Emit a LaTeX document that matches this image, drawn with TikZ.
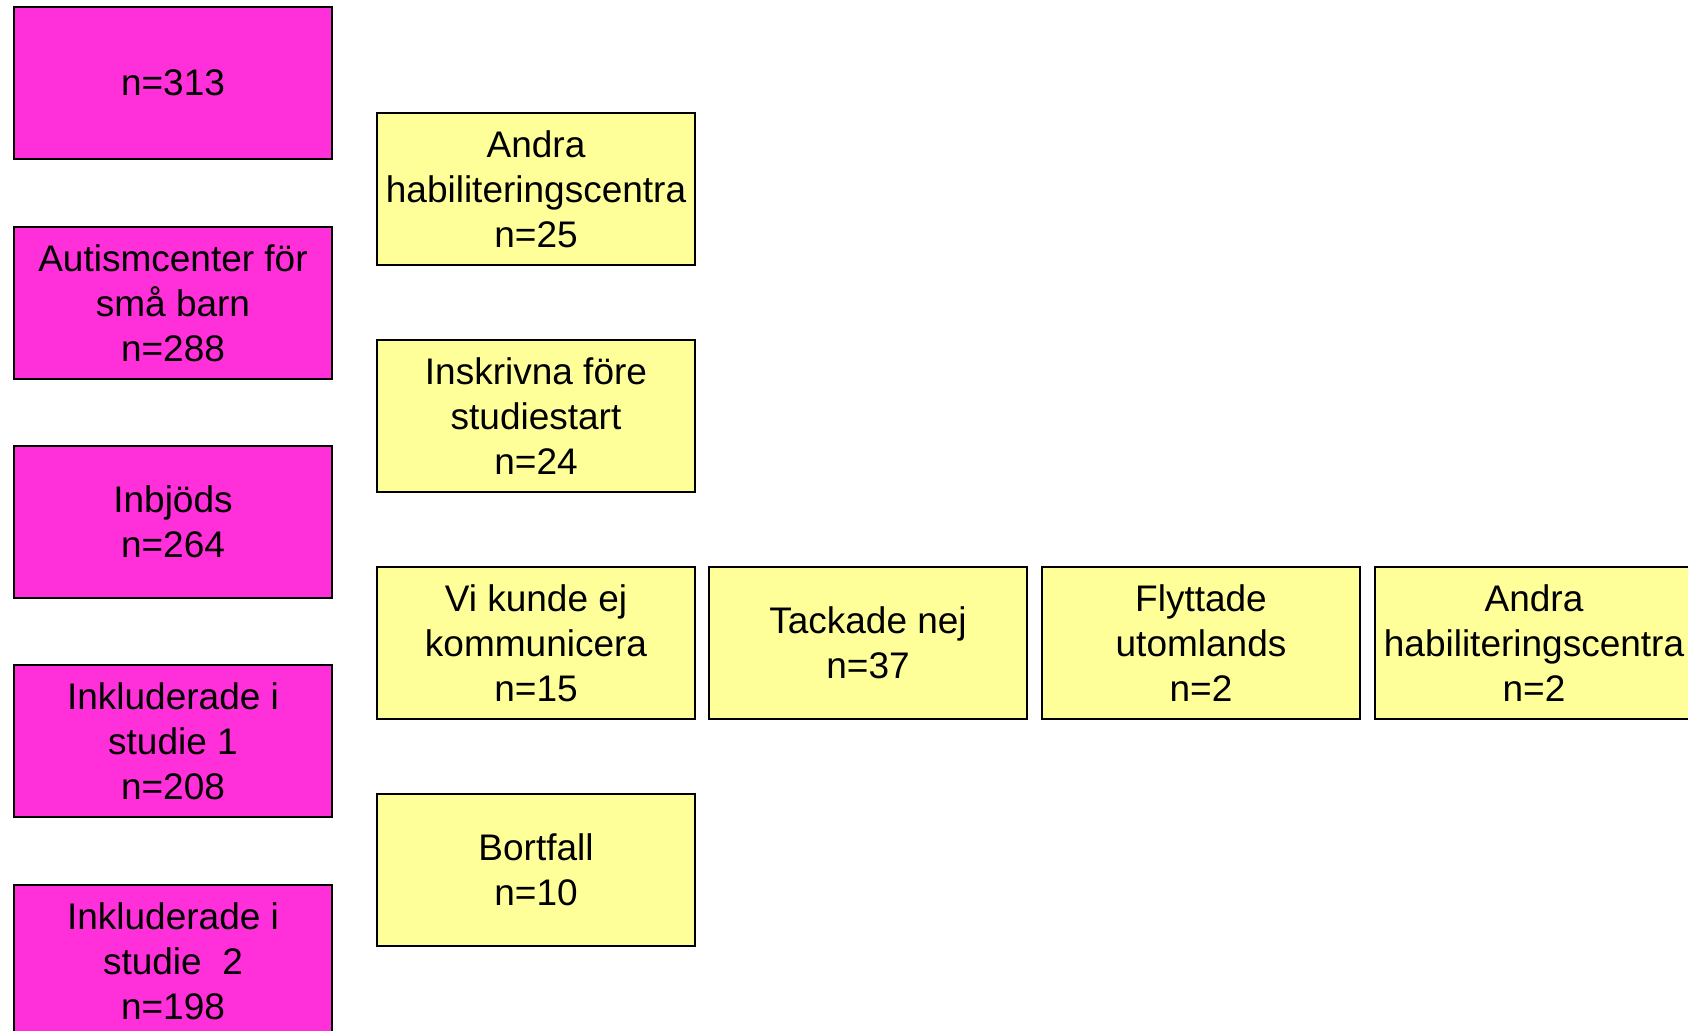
\documentclass[tikz,border=0pt]{standalone}
\usepackage{fontspec}
\setmainfont{Liberation Sans}
\definecolor{pinkfill}{HTML}{FF2FD9}
\definecolor{yellowfill}{HTML}{FFFF99}
\begin{document}
\begin{tikzpicture}[x=1pt,y=-1pt,
  boxbase/.style={draw=black, line width=2.6pt, minimum width=318pt, minimum height=152pt,
    inner sep=0pt, align=center, font=\fontsize{37}{45}\selectfont, text=black},
  pinkbox/.style={boxbase, fill=pinkfill},
  yellowbox/.style={boxbase, fill=yellowfill}]
\useasboundingbox (0,0) rectangle (1688,1030);
\fill[white] (0,0) rectangle (1688,1030);
% left column
\node[pinkbox] (p1) at (173,83) {n=313};
\node[pinkbox] (p2) at (173,303) {Autismcenter för\\små barn\\n=288};
\node[pinkbox] (p3) at (173,522) {Inbjöds\\n=264};
\node[pinkbox] (p4) at (173,741) {Inkluderade i\\studie 1\\n=208};
\node[pinkbox] (p5) at (173,961) {Inkluderade i\\studie~~2\\n=198};
% yellow boxes
\node[yellowbox] (y1) at (536,189) {Andra\\habiliteringscentra\\n=25};
\node[yellowbox] (y2) at (536,416) {Inskrivna före\\studiestart\\n=24};
\node[yellowbox] (y3) at (536,643) {Vi kunde ej\\kommunicera\\n=15};
\node[yellowbox] (y4) at (868,643) {Tackade nej\\n=37};
\node[yellowbox] (y5) at (1201,643) {Flyttade\\utomlands\\n=2};
\node[yellowbox] (y6) at (1534,643) {Andra\\habiliteringscentra\\n=2};
\node[yellowbox] (y7) at (536,870) {Bortfall\\n=10};
\end{tikzpicture}
\end{document}
